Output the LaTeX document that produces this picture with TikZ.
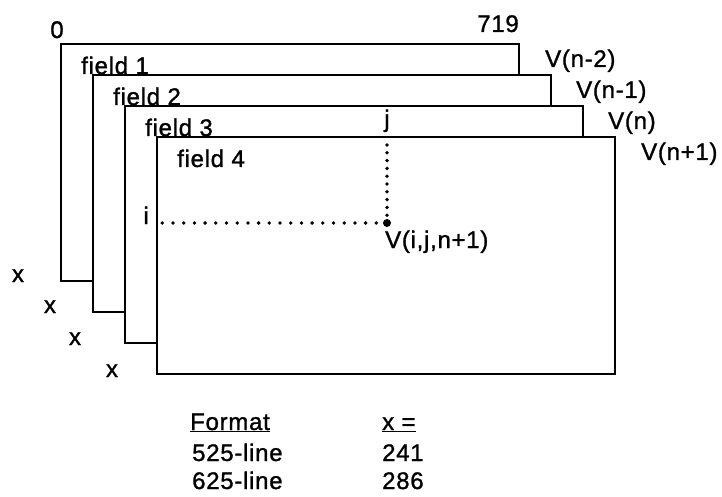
\documentclass[tikz,border=0pt]{standalone}
\usepackage{fontspec}
\setmainfont{Liberation Sans}[LetterSpace=3, FakeBold=1.2]
\usetikzlibrary{calc,positioning}

\tikzset{
    field/.style={draw, line width=2.6pt, fill=white, anchor=north west, inner sep=0pt, outer sep=0pt, minimum width=458pt, minimum height=237pt},
    lbl/.style={inner sep=0pt, font=\fontsize{24}{24}\selectfont},
    hdots/.style={line width=3.8pt, line cap=round, dash pattern=on 0pt off 10.7pt},
    vdots/.style={line width=3.8pt, line cap=round, dash pattern=on 0pt off 7.8pt}
}

\begin{document}
\begin{tikzpicture}
    \fill[white] (0,0) rectangle (722pt,496pt);
    \useasboundingbox (0,0) rectangle (722pt,496pt);
    % the four fields, each one in front of the last
    \node (f1) [field] at (61pt,452pt) {};
    \node (f2) [field, below right=31pt and 32pt of f1.north west] {};
    \node (f3) [field, below right=31pt and 32pt of f2.north west] {};
    \node (f4) [field, below right=31pt and 32pt of f3.north west] {};
    \node (l1) [lbl, anchor=base west] at ($(f1.north west)+(20pt,-30pt)$) {field 1};
    \node (l2) [lbl, anchor=base west] at ($(f2.north west)+(20pt,-30pt)$) {field 2};
    \node (l3) [lbl, anchor=base west] at ($(f3.north west)+(20pt,-30pt)$) {field 3};
    \node (l4) [lbl, anchor=base west] at ($(f4.north west)+(20pt,-30pt)$) {field 4};
    \node (v1) [lbl, anchor=base west] at ($(f1.north east)+(26pt,-23pt)$) {V(n-2)};
    \node (v2) [lbl, anchor=base west] at ($(f2.north east)+(25pt,-23pt)$) {V(n-1)};
    \node (v3) [lbl, anchor=base west] at ($(f3.north east)+(25pt,-23pt)$) {V(n)};
    \node (v4) [lbl, anchor=base west] at ($(f4.north east)+(26pt,-23pt)$) {V(n+1)};
    \node (zero) [lbl, anchor=base] at ($(f1.north west)+(-4pt,6pt)$) {0};
    \node (last) [lbl, anchor=base east] at ($(f1.north east)+(0pt,12pt)$) {719};
    \node (x1) [lbl, anchor=base] at ($(f1.south west)+(-43pt,-1pt)$) {x};
    \node (x2) [lbl, anchor=base] at ($(f2.south west)+(-43pt,-1pt)$) {x};
    \node (x3) [lbl, anchor=base] at ($(f3.south west)+(-50pt,-2pt)$) {x};
    \node (x4) [lbl, anchor=base] at ($(f4.south west)+(-45pt,-3pt)$) {x};
    % the sample V(i,j,n+1)
    \node (dot) [circle, fill, inner sep=0pt, minimum size=8pt] at ($(f4.north west)+(230pt,-86pt)$) {};
    \draw[hdots] (dot.center) -- ($(dot.center -| f4.west)+(4pt,0)$);
    \draw[vdots] (dot.center) -- ($(dot.center |- f4.north)+(0,-4pt)$);
    \node (i) [lbl, anchor=base east] at ($(dot.center -| f4.west)+(-8pt,-1pt)$) {i};
    \node (j) [lbl, anchor=base] at ($(dot.center |- f4.north)+(0pt,10pt)$) {j};
    \node (vij) [lbl, anchor=base west] at ($(dot.center)+(-2pt,-25pt)$) {V(i,j,n+1)};
    % table of x
    \node (fmt) [lbl, anchor=base west] at ($(f4.south west)+(33pt,-56pt)$) {\underline{Format}};
    \node (xeq) [lbl, anchor=base west] at ($(fmt.base west)+(192pt,0pt)$) {\underline{x =}};
    \node (r1) [lbl, anchor=base west] at ($(fmt.base west)+(2pt,-31pt)$) {525-line};
    \node (n1) [lbl, anchor=base west] at ($(xeq.base west)+(0pt,-31pt)$) {241};
    \node (r2) [lbl, anchor=base west] at ($(r1.base west)+(0pt,-28pt)$) {625-line};
    \node (n2) [lbl, anchor=base west] at ($(n1.base west)+(0pt,-28pt)$) {286};
\end{tikzpicture}
\end{document}
